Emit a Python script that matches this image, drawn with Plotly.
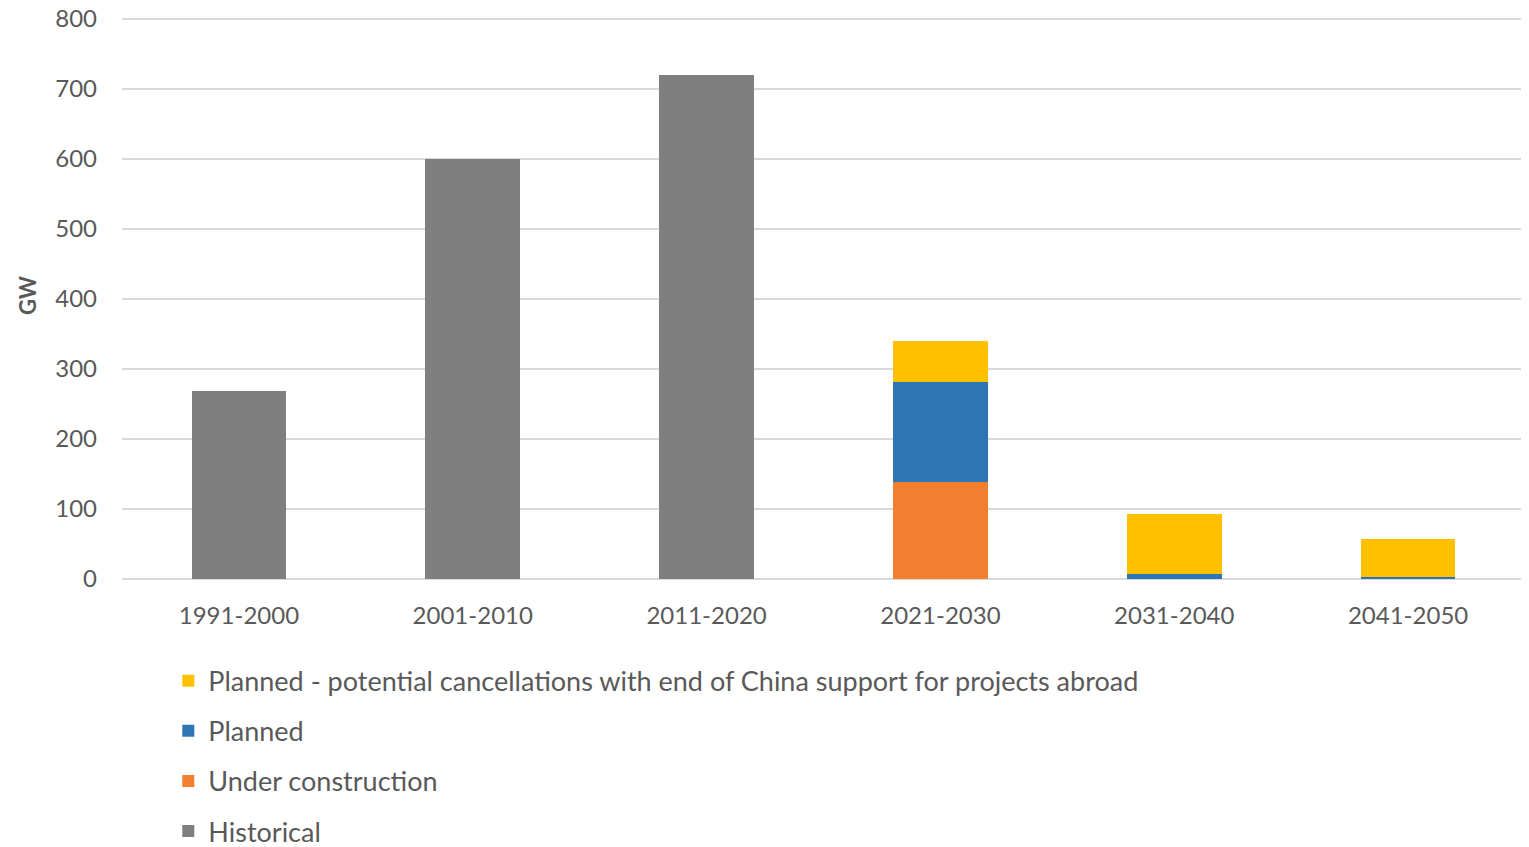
import plotly.graph_objects as go

categories = ["1991-2000", "2001-2010", "2011-2020", "2021-2030", "2031-2040", "2041-2050"]
historical = [268, 600, 720, 0, 0, 0]
under_construction = [0, 0, 0, 139, 0, 0]
planned = [0, 0, 0, 142, 7, 3]
planned_potential = [0, 0, 0, 59, 86, 54]
y_ticks = [0, 100, 200, 300, 400, 500, 600, 700, 800]

FONT = "Lato"
TXT = "#595959"

fig = go.Figure()
series = [
    ("Historical", historical, "#7F7F7F", 4),
    ("Under construction", under_construction, "#F07F30", 3),
    ("Planned", planned, "#2E75B6", 2),
    ("Planned - potential cancellations with end of China support for projects abroad", planned_potential, "#FFC000", 1),
]
for name, vals, col, rank in series:
    fig.add_trace(go.Bar(
        x=categories, y=vals, name=name, legendgroup=name, legendrank=rank,
        marker=dict(color=col, line=dict(width=0)),
        hovertemplate="%{x}: %{y} GW<extra>" + name + "</extra>",
    ))

# plot height 567 px for range 0..810 -> 0.7 px per GW (same scale as the reference)
fig.update_layout(
    barmode="stack",
    bargap=0.595,
    width=1521, height=839,
    margin=dict(l=114, r=4, t=4, b=268, autoexpand=False),
    plot_bgcolor="white", paper_bgcolor="white",
    font=dict(family=FONT, color=TXT, size=24),
    showlegend=True,
    legend=dict(
        orientation="v",
        traceorder="grouped",
        tracegroupgap=12,
        x=0.033, y=-0.137, xanchor="left", yanchor="top",
        font=dict(family=FONT, size=27, color=TXT),
        bgcolor="rgba(0,0,0,0)",
    ),
    xaxis=dict(
        tickfont=dict(family=FONT, size=24, color=TXT),
        showline=False, ticks="", tickangle=0, ticklabelstandoff=20,
    ),
    yaxis=dict(
        range=[0, 810], tickvals=y_ticks,
        tickfont=dict(family=FONT, size=24, color=TXT),
        ticklabeloverflow="allow",
        gridcolor="#D9D9D9", gridwidth=1.5,
        zeroline=True, zerolinecolor="#D9D9D9", zerolinewidth=2,
        ticks="", ticklabelstandoff=24,
        title=dict(text="<b>GW</b>", font=dict(family=FONT, size=22, color=TXT), standoff=12),
    ),
)

fig.write_html("out.html")
